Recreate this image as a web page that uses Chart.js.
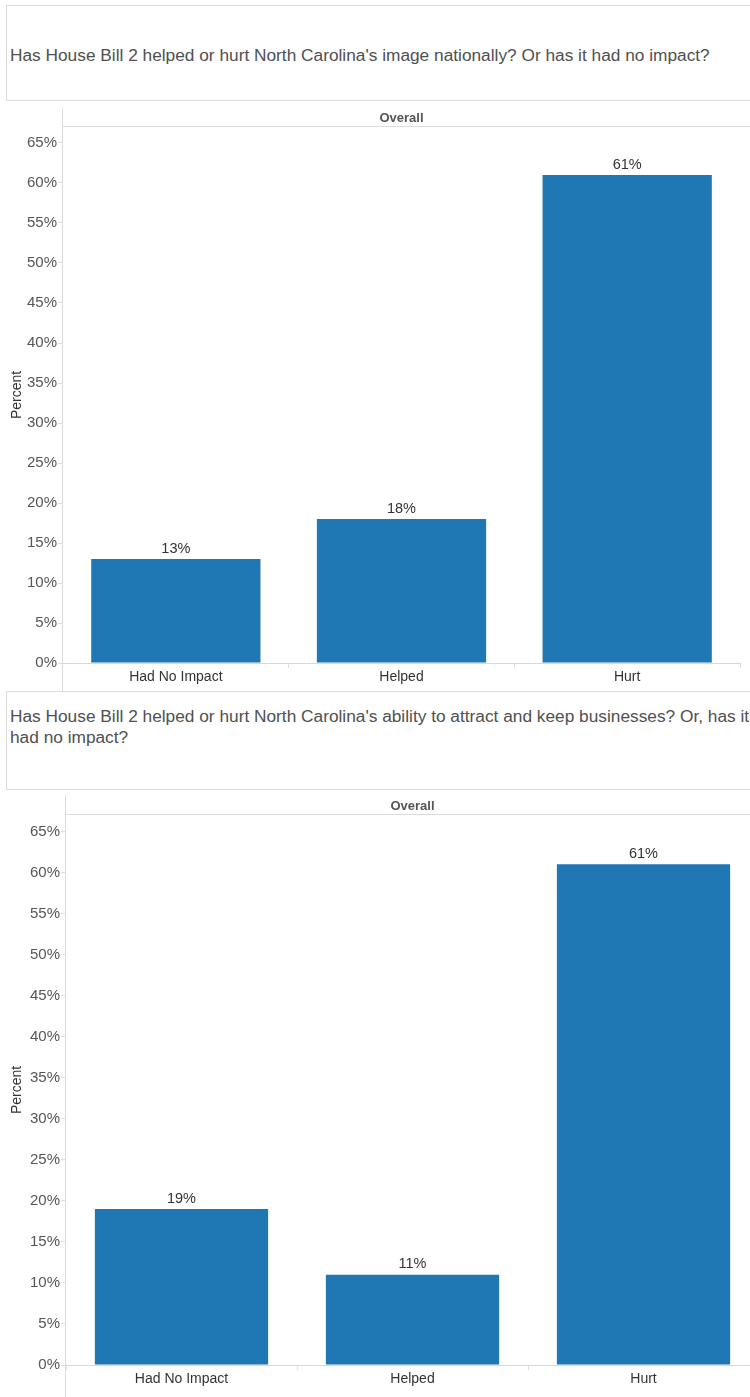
<!DOCTYPE html>
<html>
<head>
<meta charset="utf-8">
<script src="https://cdn.jsdelivr.net/npm/chart.js@4.4.1/dist/chart.umd.min.js"></script>
<style>
  html, body { margin: 0; padding: 0; background: #fff; }
  body { width: 750px; height: 1397px; position: relative; overflow: hidden; font-family: "Liberation Sans", Arial, sans-serif; }
  .question { position: absolute; left: 6px; width: 900px; box-sizing: border-box; border: 1px solid #dcdcdc; color: #505050; font-size: 17.3px; padding-left: 3px; white-space: nowrap; }
  #q1 { top: 5px; height: 96px; padding-top: 39px; line-height: 20px; }
  #q2 { top: 691px; height: 99px; padding-top: 14px; line-height: 21px; }
  canvas { position: absolute; left: 0; }
  #chartImage { top: 100px; }
  #chartBusiness { top: 790px; }
</style>
</head>
<body>
<div class="question" id="q1"></div>
<div class="question" id="q2"></div>
<canvas id="chartImage" width="750" height="591"></canvas>
<canvas id="chartBusiness" width="770" height="607"></canvas>
<script>
// survey answers, percent of respondents
const categories = ['Had No Impact', 'Helped', 'Hurt'];
const imageValues = [13, 18, 61];
const businessValues = [19, 11, 61];
const yTickValues = [0, 5, 10, 15, 20, 25, 30, 35, 40, 45, 50, 55, 60, 65];
const yMax = 67;

const questionImage = ["Has House Bill 2 helped or hurt North Carolina's image nationally? Or has it had no impact?"];
const questionBusiness = ["Has House Bill 2 helped or hurt North Carolina's ability to attract and keep businesses? Or, has it", "had no impact?"];

const FONT = '"Liberation Sans", Arial, sans-serif';
const BAR_BLUE = '#1f77b4';

function fillQuestion(id, lines) {
    const box = document.getElementById(id);
    lines.forEach((line, i) => {
        if (i > 0) box.appendChild(document.createElement('br'));
        box.appendChild(document.createTextNode(line));
    });
}
fillQuestion('q1', questionImage);
fillQuestion('q2', questionBusiness);

// percent label over each bar
const barValueLabels = {
    id: 'barValueLabels',
    afterDatasetsDraw(chart) {
        const ctx = chart.ctx;
        const values = chart.data.datasets[0].data;
        ctx.save();
        ctx.font = '14.5px ' + FONT;
        ctx.fillStyle = '#333';
        ctx.textAlign = 'center';
        ctx.textBaseline = 'bottom';
        chart.getDatasetMeta(0).data.forEach((bar, i) => {
            ctx.fillText(values[i] + '%', bar.x, bar.y - 3);
        });
        ctx.restore();
    }
};

// axis line running through the header, header rule and the "Overall" caption
const panelFrame = {
    id: 'panelFrame',
    afterDraw(chart, args, opts) {
        const { ctx, chartArea: a, width, height } = chart;
        ctx.save();
        ctx.strokeStyle = '#dcdcdc';
        ctx.lineWidth = 1;
        ctx.beginPath();
        ctx.moveTo(a.left - 0.5, opts.headerTop);
        ctx.lineTo(a.left - 0.5, height);
        ctx.moveTo(a.left, a.top - 0.5);
        ctx.lineTo(width, a.top - 0.5);
        ctx.stroke();
        ctx.fillStyle = '#555';
        ctx.font = 'bold 13px ' + FONT;
        ctx.textAlign = 'center';
        ctx.textBaseline = 'middle';
        ctx.fillText(opts.header, (a.left + a.right) / 2, (opts.headerTop + a.top) / 2 + 1);
        ctx.restore();
    }
};

function makeChart(canvasId, values, box) {
    return new Chart(document.getElementById(canvasId), {
        type: 'bar',
        data: {
            labels: categories,
            datasets: [{
                data: values,
                backgroundColor: BAR_BLUE,
                borderWidth: 0,
                categoryPercentage: 1,
                barPercentage: 0.75
            }]
        },
        options: {
            responsive: false,
            animation: false,
            layout: { padding: { top: box.top, right: box.right, left: 0, bottom: 0 } },
            plugins: {
                legend: { display: false },
                tooltip: { enabled: false },
                panelFrame: { header: 'Overall', headerTop: box.headerTop }
            },
            scales: {
                x: {
                    afterFit: s => { s.height = box.xHeight; },
                    grid: { offset: true, drawOnChartArea: false, drawTicks: true, tickLength: 5, color: '#e0e0e0' },
                    border: { display: true, color: '#d8d8d8' },
                    ticks: { padding: 1, color: '#333', font: { family: FONT, size: 14 } }
                },
                y: {
                    min: 0,
                    max: yMax,
                    afterFit: s => { s.width = box.yWidth; },
                    afterBuildTicks: s => { s.ticks = yTickValues.map(v => ({ value: v })); },
                    grid: { drawOnChartArea: false, drawTicks: true, tickLength: 5, color: '#dedede' },
                    border: { display: false },
                    ticks: { padding: 1, color: '#555', font: { family: FONT, size: 15 }, callback: v => v + '%' },
                    title: { display: true, text: 'Percent', color: '#333', font: { family: FONT, size: 14 }, padding: { top: 9, bottom: 0 } }
                }
            }
        },
        plugins: [barValueLabels, panelFrame]
    });
}

makeChart('chartImage', imageValues, { top: 27, right: 10, xHeight: 28, yWidth: 63, headerTop: 8 });
makeChart('chartBusiness', businessValues, { top: 25, right: 11, xHeight: 32, yWidth: 66, headerTop: 5 });
</script>
</body>
</html>
